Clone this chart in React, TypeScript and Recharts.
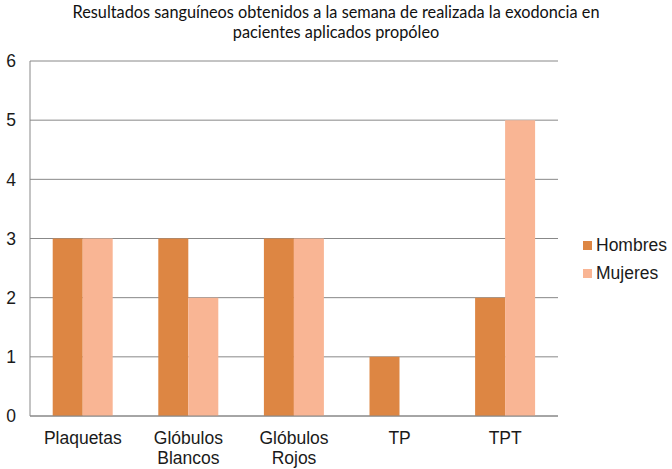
import React from 'react';
import { BarChart, Bar, XAxis, YAxis, CartesianGrid } from 'recharts';

const categories = ['Plaquetas', 'Glóbulos\nBlancos', 'Glóbulos\nRojos', 'TP', 'TPT'];
const hombres = [3, 3, 3, 1, 2];
const mujeres = [3, 2, 3, 0, 5];
const yTicks = [0, 1, 2, 3, 4, 5, 6];
const seriesNames = ['Hombres', 'Mujeres'];
const colors = ['#DD8643', '#F9B594'];

const data = categories.map((c, i) => ({ name: c, Hombres: hombres[i], Mujeres: mujeres[i] }));

const FONT = "'Liberation Sans', Arial, sans-serif";

const CatTick = (props: any) => {
  const { x, y, payload } = props;
  const lines = String(payload.value).split('\n');
  return (
    <text x={x} y={y} textAnchor="middle" fill="#1a1a1a" fontFamily={FONT} fontSize={17.5}>
      {lines.map((l, i) => (
        <tspan key={i} x={x} dy={i === 0 ? 20 : 20}>{l}</tspan>
      ))}
    </text>
  );
};

export default function App() {
  return (
    <div style={{ position: 'absolute', left: 0, top: 0, width: 672, height: 469, background: '#fff' }}>
      <BarChart width={672} height={469} data={data} margin={{ top: 61, right: 114, left: 0, bottom: 0 }} barCategoryGap="21.5%" barGap={0}>
        <CartesianGrid vertical={false} stroke="#888" />
        <XAxis dataKey="name" tick={<CatTick />} tickLine={false} axisLine={{ stroke: '#888' }} interval={0} height={53} />
        <YAxis domain={[0, 6]} ticks={yTicks} width={30} tickLine={false} tickSize={0} tickMargin={14} axisLine={{ stroke: '#888' }} tick={{ fill: '#1a1a1a', fontSize: 17.5, fontFamily: FONT }} />
        <Bar dataKey="Hombres" fill={colors[0]} isAnimationActive={false} />
        <Bar dataKey="Mujeres" fill={colors[1]} isAnimationActive={false} />
      </BarChart>
      <div style={{ position: 'absolute', left: 0, top: 0, width: 672, textAlign: 'center', fontFamily: "Lato, 'Open Sans', sans-serif", fontSize: 16.3, lineHeight: '20px', color: '#111', paddingTop: 2 }}>
        Resultados sanguíneos obtenidos a la semana de realizada la exodoncia en<br />pacientes aplicados propóleo
      </div>
      <div style={{ position: 'absolute', left: 583, top: 231, fontFamily: FONT, fontSize: 17.5, color: '#1a1a1a' }}>
        {seriesNames.map((n, i) => (
          <div key={n} style={{ display: 'flex', alignItems: 'center', height: 28 }}>
            <span style={{ display: 'inline-block', width: 9, height: 9, background: colors[i], marginRight: 4 }} />
            {n}
          </div>
        ))}
      </div>
    </div>
  );
}
